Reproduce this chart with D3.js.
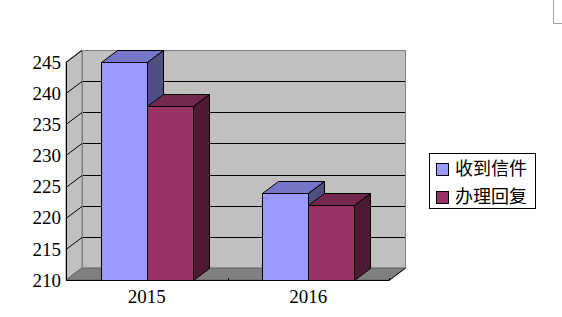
<!DOCTYPE html>
<html><head><meta charset="utf-8">
<script src="https://cdn.jsdelivr.net/npm/d3@7"></script>
<style>html,body{margin:0;padding:0;background:#fff;}svg{display:block;}</style>
</head><body>
<script>
const categories = ["2015", "2016"];
const seriesNames = ["收到信件", "办理回复"];
const received = [245, 224];
const replied = [238, 222];
const yTicks = [210, 215, 220, 225, 230, 235, 240, 245];

(function () {
const W = 562, H = 317;
const svg = d3.select("body").append("svg").attr("width", W).attr("height", H);

const pLeft = 66, pRight = 389, pBottom = 280, pTop = 62;
const dx = 16, dy = 12;
const y = d3.scaleLinear().domain([210, 245]).range([pBottom, pTop]);
const x0 = d3.scaleBand().domain(categories).range([pLeft, pRight]).padding(0);
const x1 = d3.scaleBand().domain(seriesNames).range([0, x0.bandwidth()]).paddingInner(0).paddingOuter(0.755);

const faces = [
  {front: "#9999FF", top: "#7676C8", side: "#4F4F80"},
  {front: "#993366", top: "#742850", side: "#4C1A33"}
];

// corner mark
svg.append("path").attr("d", "M553.5,0 V23.5 H562").attr("fill", "none").attr("stroke", "#a0a0a0");

// side wall
svg.append("path")
  .attr("d", `M${pLeft},${y(245)} L${pLeft+dx},${y(245)-dy} L${pLeft+dx},${pBottom-dy} L${pLeft},${pBottom} Z`)
  .attr("fill", "#C0C0C0").attr("stroke", "#808080");
// back wall
svg.append("rect").attr("x", pLeft+dx+0.5).attr("y", y(245)-dy+0.5)
  .attr("width", pRight-pLeft).attr("height", pBottom-y(245))
  .attr("fill", "#C0C0C0").attr("stroke", "#808080");
// floor
svg.append("path")
  .attr("d", `M${pLeft},${pBottom} L${pLeft+dx},${pBottom-dy} L${pRight+dx},${pBottom-dy} L${pRight},${pBottom} Z`)
  .attr("fill", "#808080").attr("stroke", "#606060");

// gridlines
yTicks.filter(t => t > 210).forEach(t => {
  const yy = Math.round(y(t)) + 0.5;
  svg.append("path")
    .attr("d", `M${pLeft},${yy} L${pLeft+dx},${yy-dy}` + (t < 245 ? ` L${pRight+dx},${yy-dy}` : ""))
    .attr("fill", "none").attr("stroke", "#000").attr("stroke-width", 1);
});
// left wall back edge
svg.append("line").attr("x1", pLeft+dx+0.5).attr("x2", pLeft+dx+0.5)
  .attr("y1", y(245)-dy).attr("y2", pBottom-dy).attr("stroke", "#808080");

// bars
const data = categories.map((c, i) => ({cat: c, vals: [received[i], replied[i]]}));
data.forEach(d => {
  d.vals.forEach((v, j) => {
    const bx = Math.round(x0(d.cat) + x1(seriesNames[j])) + 0.5;
    const bw = Math.round(x1.bandwidth());
    const by = Math.round(y(v)) + 0.5;
    const by0 = pBottom + 0.5;
    const g = svg.append("g").attr("stroke", "#000").attr("stroke-width", 1).attr("stroke-linejoin", "round");
    g.append("path").attr("fill", faces[j].top)
      .attr("d", `M${bx},${by} L${bx+dx},${by-dy} L${bx+bw+dx},${by-dy} L${bx+bw},${by} Z`);
    g.append("path").attr("fill", faces[j].side)
      .attr("d", `M${bx+bw},${by} L${bx+bw+dx},${by-dy} L${bx+bw+dx},${by0-dy} L${bx+bw},${by0} Z`);
    g.append("rect").attr("fill", faces[j].front)
      .attr("x", bx).attr("y", by).attr("width", bw).attr("height", by0 - by);
  });
});

// axes lines
svg.append("line").attr("x1", pLeft+0.5).attr("x2", pLeft+0.5).attr("y1", y(245)).attr("y2", pBottom+0.5).attr("stroke", "#000");
svg.append("line").attr("x1", pLeft).attr("x2", pRight).attr("y1", pBottom+0.5).attr("y2", pBottom+0.5).attr("stroke", "#000");
svg.append("path").attr("d", `M${pRight},${pBottom+0.5} L${pRight+dx},${pBottom-dy+0.5}`).attr("stroke", "#000").attr("fill", "none");
// category boundary ticks on floor
[x0(categories[1]), pRight].forEach(xx => {
  svg.append("line").attr("x1", Math.round(xx)+0.5).attr("x2", Math.round(xx)+0.5)
    .attr("y1", pBottom-2).attr("y2", pBottom).attr("stroke", "#000");
});

// y tick labels
svg.append("g").selectAll("text").data(yTicks).join("text")
  .attr("x", 61).attr("y", d => y(d)).attr("dy", "0.35em")
  .attr("text-anchor", "end")
  .attr("font-family", "Liberation Serif, serif").attr("font-size", 19)
  .attr("fill", "#000").text(d => d);

// x labels
svg.append("g").selectAll("text").data(categories).join("text")
  .attr("x", d => x0(d) + x0.bandwidth()/2).attr("y", 303)
  .attr("text-anchor", "middle")
  .attr("font-family", "Liberation Serif, serif").attr("font-size", 19)
  .attr("fill", "#000").text(d => d);

// legend
const lg = svg.append("g");
lg.append("rect").attr("x", 429.5).attr("y", 153.5).attr("width", 106).attr("height", 55)
  .attr("fill", "#fff").attr("stroke", "#000");
seriesNames.forEach((s, i) => {
  const cy = 169 + i * 27.5;
  lg.append("rect").attr("x", 436.5).attr("y", Math.round(cy - 6) + 0.5).attr("width", 12).attr("height", 12)
    .attr("fill", faces[i].front).attr("stroke", "#000");
  lg.append("text").attr("x", 455).attr("y", cy).attr("dy", "0.36em")
    .attr("font-family", "Noto Sans CJK SC, sans-serif").attr("font-size", 18)
    .attr("fill", "#000").text(s);
});
})();
</script>
</body></html>
